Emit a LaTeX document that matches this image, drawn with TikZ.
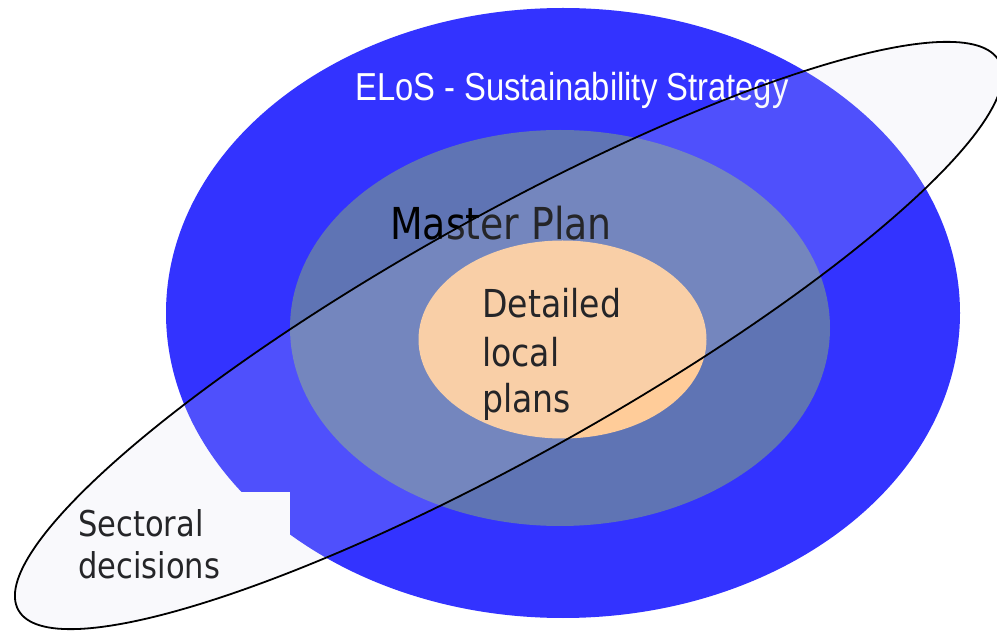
\documentclass[tikz,border=0pt]{standalone}
\usepackage{fontspec}
\newfontfamily\tahomalike[FakeStretch=0.86]{DejaVu Sans}
\newfontfamily\narrowarial[FakeStretch=0.84]{Liberation Sans}
\definecolor{outerblue}{HTML}{3333FF}
\definecolor{midblue}{HTML}{5F74B4}
\definecolor{innerorange}{HTML}{FFCC99}
\definecolor{veilcol}{RGB}{220,225,240}
\tikzset{
  lbl/.style={anchor=base west, inner sep=0pt, text=black},
  title/.style={anchor=base west, inner sep=0pt, text=white, font=\narrowarial\fontsize{39}{47}\selectfont},
  sectoral/.style={rotate around={29.25:(508.7,294.5)}},
}
\begin{document}
\begin{tikzpicture}[x=1pt,y=1pt]
\useasboundingbox (0,0) rectangle (997,630);
\fill[white] (0,0) rectangle (997,630);
% concentric levels
\fill[outerblue] (563,317) ellipse [x radius=397, y radius=305];
\fill[midblue] (560,302) ellipse [x radius=270, y radius=198];
\fill[innerorange] (562.5,290.5) ellipse [x radius=144, y radius=99];
% text box background
\fill[white] (60,12) rectangle (290,138);
% labels
\node[title] (elos) at (355,529) {ELoS - Sustainability Strategy};
\node[lbl, font=\tahomalike\fontsize{44}{52}\selectfont] (master) at (390,390) {Master Plan};
\node[lbl, font=\tahomalike\fontsize{38.5}{48}\selectfont] (det1) at (482,312) {Detailed};
\node[lbl, font=\tahomalike\fontsize{38.5}{48}\selectfont] (det2) at (482,263) {local};
\node[lbl, font=\tahomalike\fontsize{38.5}{48}\selectfont] (det3) at (482,217) {plans};
\node[lbl, font=\tahomalike\fontsize{35.5}{41}\selectfont] (sec1) at (78,93) {Sectoral};
\node[lbl, font=\tahomalike\fontsize{35.5}{41}\selectfont] (sec2) at (78,52) {decisions};
% sectoral ellipse
\fill[veilcol, fill opacity=0.17, sectoral] (508.7,294.5) ellipse [x radius=562, y radius=119];
\draw[black, line width=1.8pt, sectoral] (508.7,294.5) ellipse [x radius=562, y radius=119];
\end{tikzpicture}
\end{document}
